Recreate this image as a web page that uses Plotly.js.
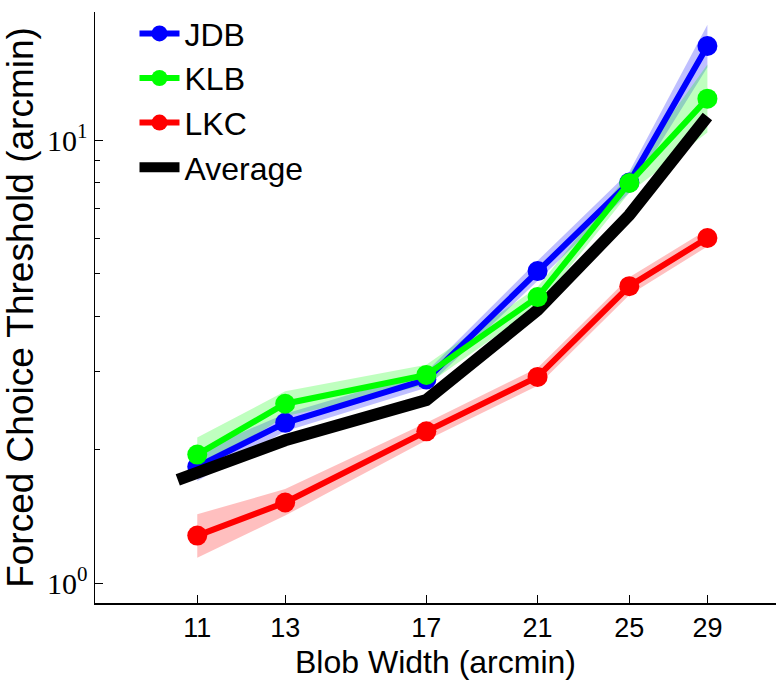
<!DOCTYPE html>
<html>
<head>
<meta charset="utf-8">
<script src="https://cdn.plot.ly/plotly-3.0.1.min.js"></script>
<style>html,body{margin:0;padding:0;background:#fff;}#chart{width:776px;height:693px;}</style>
</head>
<body>
<div id="chart"></div>
<script>
// Blob widths (arcmin)
var blobWidth = [11, 13, 17, 21, 25, 29];
// Thresholds per observer (arcmin)
var jdb = [1.83, 2.30, 2.88, 5.06, 8.02, 16.3];
var klb = [1.95, 2.54, 2.95, 4.42, 8.00, 12.4];
var lkc = [1.28, 1.52, 2.20, 2.92, 4.68, 6.01];
// Shaded confidence bands (lower / upper)
var jdbLo = [1.70, 2.20, 2.76, 4.80, 7.60, 14.6];
var jdbHi = [1.98, 2.41, 3.00, 5.34, 8.48, 18.2];
var klbLo = [1.78, 2.38, 2.80, 4.20, 7.60, 10.4];
var klbHi = [2.13, 2.71, 3.11, 4.66, 8.42, 14.8];
var lkcLo = [1.14, 1.42, 2.10, 2.79, 4.47, 5.75];
var lkcHi = [1.43, 1.63, 2.30, 3.06, 4.90, 6.28];
// Average across observers
var avgWidth = [10.6, 13, 17, 21, 25, 29];
var avg = [1.71, 2.10, 2.59, 4.13, 6.77, 11.3];
// Axis tick labels
var yTickVals = [1, 10];
var yTickText = ['10<sup>0</sup>', '10<sup>1</sup>'];

function band(lo, hi, color) {
  return {
    x: blobWidth.concat(blobWidth.slice().reverse()),
    y: lo.concat(hi.slice().reverse()),
    type: 'scatter', mode: 'lines', fill: 'toself',
    fillcolor: color, line: {width: 0}, showlegend: false, hoverinfo: 'skip'
  };
}
function series(name, y, color, rank) {
  return {
    x: blobWidth, y: y, name: name, type: 'scatter', mode: 'lines+markers',
    line: {color: color, width: 6}, marker: {color: color, size: 20},
    legendrank: rank
  };
}
var traces = [
  band(jdbLo, jdbHi, 'rgba(0,0,255,0.25)'),
  band(klbLo, klbHi, 'rgba(0,255,0,0.25)'),
  band(lkcLo, lkcHi, 'rgba(255,0,0,0.25)'),
  series('JDB', jdb, '#0000ff', 1),
  series('LKC', lkc, '#ff0000', 3),
  {x: avgWidth, y: avg, name: 'Average', type: 'scatter', mode: 'lines',
   line: {color: '#000000', width: 12}, legendrank: 4},
  series('KLB', klb, '#00ff00', 2)
];

var layout = {
  width: 776, height: 693,
  margin: {l: 95, r: 0, t: 12, b: 90},
  paper_bgcolor: '#fff', plot_bgcolor: '#fff',
  font: {family: 'Liberation Sans, Arial, sans-serif', color: '#000'},
  showlegend: true,
  legend: {x: 0.058, y: 1.01, xanchor: 'left', yanchor: 'top', bgcolor: 'rgba(0,0,0,0)',
           font: {size: 32, family: 'Liberation Sans, Arial, sans-serif'}, itemwidth: 40},
  xaxis: {
    type: 'log', range: [0.957, 1.519],
    tickvals: blobWidth, ticktext: blobWidth.map(String),
    ticks: 'inside', ticklen: 8, tickwidth: 1, tickcolor: '#000',
    showline: true, linecolor: '#000', linewidth: 1.5, mirror: false,
    showgrid: false, zeroline: false,
    tickfont: {size: 27},
    title: {text: 'Blob Width (arcmin)', font: {size: 32}, standoff: 8}
  },
  yaxis: {
    type: 'log', range: [-0.045, 1.289],
    tickvals: yTickVals, ticktext: yTickText,
    ticks: 'inside', ticklen: 8, tickwidth: 1, tickcolor: '#000',
    minor: {tickvals: [2,3,4,5,6,7,8,9,20], ticks: 'inside', ticklen: 5, tickcolor: '#000'},
    showline: true, linecolor: '#000', linewidth: 1.5, mirror: false,
    showgrid: false, zeroline: false,
    tickfont: {size: 30, family: 'Liberation Serif, Times New Roman, serif'},
    title: {text: 'Forced Choice Threshold (arcmin)', font: {size: 37}, standoff: 4}
  }
};
Plotly.newPlot('chart', traces, layout, {displayModeBar: false, staticPlot: true});
</script>
</body>
</html>
